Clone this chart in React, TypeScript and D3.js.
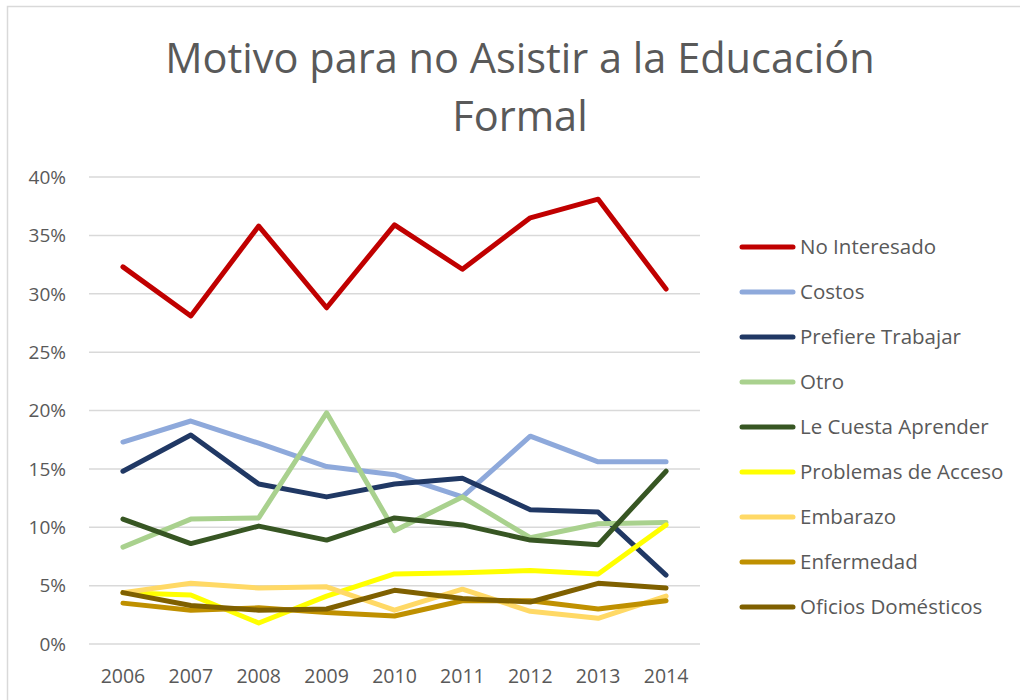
import React from "react";
import { scaleBand, scaleLinear, line } from "d3";

const years = ["2006", "2007", "2008", "2009", "2010", "2011", "2012", "2013", "2014"];
const yTicks = [0, 0.05, 0.1, 0.15, 0.2, 0.25, 0.3, 0.35, 0.4];

const noInteresado = [0.323, 0.281, 0.358, 0.288, 0.359, 0.321, 0.365, 0.381, 0.304];
const costos = [0.173, 0.191, 0.172, 0.152, 0.145, 0.126, 0.178, 0.156, 0.156];
const prefiereTrabajar = [0.148, 0.179, 0.137, 0.126, 0.137, 0.142, 0.115, 0.113, 0.059];
const otro = [0.083, 0.107, 0.108, 0.198, 0.097, 0.126, 0.091, 0.103, 0.104];
const leCuestaAprender = [0.107, 0.086, 0.101, 0.089, 0.108, 0.102, 0.089, 0.085, 0.148];
const problemasAcceso = [0.044, 0.042, 0.018, 0.041, 0.06, 0.061, 0.063, 0.06, 0.102];
const embarazo = [0.044, 0.052, 0.048, 0.049, 0.029, 0.047, 0.028, 0.022, 0.041];
const enfermedad = [0.035, 0.029, 0.031, 0.027, 0.024, 0.037, 0.037, 0.03, 0.037];
const oficiosDomesticos = [0.044, 0.033, 0.029, 0.03, 0.046, 0.039, 0.036, 0.052, 0.048];

const series = [
  { name: "No Interesado", values: noInteresado, color: "#C00000" },
  { name: "Costos", values: costos, color: "#8EA9DB" },
  { name: "Prefiere Trabajar", values: prefiereTrabajar, color: "#203864" },
  { name: "Otro", values: otro, color: "#A9D18E" },
  { name: "Le Cuesta Aprender", values: leCuestaAprender, color: "#375623" },
  { name: "Problemas de Acceso", values: problemasAcceso, color: "#FFFF00" },
  { name: "Embarazo", values: embarazo, color: "#FFD966" },
  { name: "Enfermedad", values: enfermedad, color: "#BF9000" },
  { name: "Oficios Domésticos", values: oficiosDomesticos, color: "#7F6000" },
];

const FONT = "'Open Sans', sans-serif";
const TEXT = "#595959";
const GRID = "#D9D9D9";

export default function App() {
  const width = 1020;
  const height = 700;

  // plot area
  const xScale = scaleBand<string>().domain(years).range([89, 700]).padding(0);
  const yScale = scaleLinear().domain([0, 0.4]).range([644, 177]);
  const xPos = (yr: string) => (xScale(yr) ?? 0) + xScale.bandwidth() / 2;

  const lineGen = line<number>()
    .x((d, i) => xPos(years[i]))
    .y(d => yScale(d));

  return (
    <svg
      width={width}
      height={height}
      style={{ position: "absolute", left: 0, top: 0, background: "#fff" }}
      fontFamily={FONT}
    >
      <rect x={7.5} y={6.5} width={width + 20} height={height + 20} fill="#fff" stroke={GRID} strokeWidth={1.5} />

      {/* title */}
      <text x={520} y={73} textAnchor="middle" fontSize={41.5} fill={TEXT}>
        Motivo para no Asistir a la Educación
      </text>
      <text x={520} y={131} textAnchor="middle" fontSize={41.5} fill={TEXT}>
        Formal
      </text>

      {/* gridlines + y ticks */}
      {yTicks.map(t => (
        <g key={t}>
          <line x1={89} x2={700} y1={yScale(t)} y2={yScale(t)} stroke={GRID} strokeWidth={1.5} />
          <text x={66} y={yScale(t)} dy="0.36em" textAnchor="end" fontSize={19} fill={TEXT}>
            {Math.round(t * 100)}%
          </text>
        </g>
      ))}

      {/* x ticks */}
      {years.map(yr => (
        <text key={yr} x={xPos(yr)} y={683} textAnchor="middle" fontSize={19.5} fill={TEXT}>
          {yr}
        </text>
      ))}

      {/* lines */}
      {series.map(s => (
        <path
          key={s.name}
          d={lineGen(s.values) ?? ""}
          fill="none"
          stroke={s.color}
          strokeWidth={5}
          strokeLinejoin="round"
          strokeLinecap="round"
        />
      ))}

      {/* legend */}
      {series.map((s, i) => {
        const y = 247 + i * 45;
        return (
          <g key={s.name}>
            <line x1={742} x2={793} y1={y} y2={y} stroke={s.color} strokeWidth={5} strokeLinecap="round" />
            <text x={800} y={y} dy="0.36em" fontSize={20.5} fill={TEXT}>
              {s.name}
            </text>
          </g>
        );
      })}
    </svg>
  );
}
